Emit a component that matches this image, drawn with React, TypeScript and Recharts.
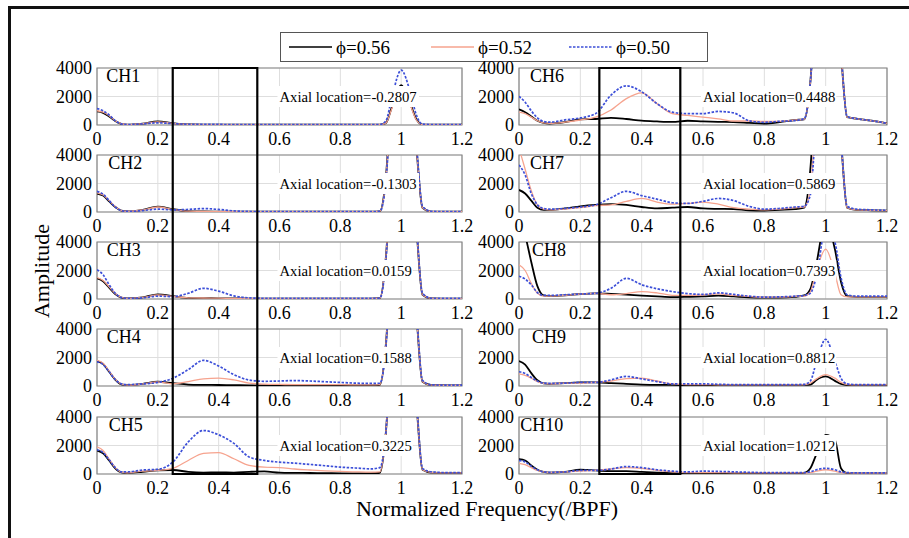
import { LineChart, Line, XAxis, YAxis, CartesianGrid, ReferenceArea, ReferenceDot } from 'recharts'

const FONT = "'Liberation Serif', 'Times New Roman', serif"

// shared frequency grid (normalized by BPF)
const FREQ = [
  0, 0.02, 0.04, 0.06, 0.08, 0.1, 0.15, 0.2,
  0.25, 0.3, 0.35, 0.4, 0.45, 0.5, 0.55, 0.6,
  0.65, 0.7, 0.75, 0.8, 0.85, 0.9, 0.93, 0.95,
  0.97, 1.0, 1.03, 1.05, 1.07, 1.1, 1.15, 1.2,
]
const X_TICKS = [0, 0.2, 0.4, 0.6, 0.8, 1, 1.2]
const Y_TICKS = [0, 2000, 4000]

const CH_NAMES = ['CH1', 'CH2', 'CH3', 'CH4', 'CH5', 'CH6', 'CH7', 'CH8', 'CH9', 'CH10']
const AXIAL = ['-0.2807', '-0.1303', '0.0159', '0.1588', '0.3225', '0.4488', '0.5869', '0.7393', '0.8812', '1.0212']
const PHI = ['\u03d5=0.56', '\u03d5=0.52', '\u03d5=0.50']
const CH_LABEL_X = [0.03, 0.037, 0.032, 0.032, 0.039, 0.036, 0.036, 0.042, 0.042, 0.004]

// phi = 0.56 (black), 0.52 (orange), 0.50 (blue dotted)
const CH1_056 = [950, 850, 600, 280, 80, 30, 100, 250, 120, 40, 30, 30, 30, 20, 20, 20, 20, 20, 20, 20, 20, 20, 20, 150, 1300, 2800, 1500, 400, 30, 20, 20, 20]
const CH1_052 = [1000, 900, 650, 300, 90, 30, 100, 220, 110, 40, 30, 30, 30, 20, 20, 20, 20, 20, 20, 20, 20, 20, 20, 150, 1200, 2700, 1400, 350, 30, 20, 20, 20]
const CH1_050 = [1150, 1000, 700, 300, 80, 30, 80, 150, 100, 50, 50, 40, 30, 30, 30, 30, 30, 30, 30, 30, 30, 30, 30, 300, 2000, 3850, 2300, 700, 60, 30, 30, 30]

const CH2_056 = [1300, 1150, 750, 350, 100, 40, 150, 380, 200, 60, 40, 30, 30, 20, 20, 20, 20, 20, 20, 20, 20, 20, 50, 2500, 9000, 15000, 9000, 4500, 300, 30, 20, 20]
const CH2_052 = [1350, 1200, 800, 380, 100, 40, 140, 350, 180, 60, 40, 30, 30, 20, 20, 20, 20, 20, 20, 20, 20, 20, 50, 2400, 9000, 15000, 9000, 4500, 300, 30, 20, 20]
const CH2_050 = [1450, 1250, 800, 350, 100, 40, 100, 200, 150, 180, 240, 180, 80, 40, 30, 30, 30, 30, 30, 30, 30, 30, 50, 2200, 9000, 15000, 9000, 4800, 400, 40, 30, 30]

const CH3_056 = [1450, 1250, 800, 350, 100, 40, 120, 330, 200, 80, 60, 50, 40, 30, 30, 30, 30, 30, 30, 30, 30, 30, 60, 3000, 10000, 16000, 10000, 5000, 300, 40, 30, 30]
const CH3_052 = [1500, 1300, 850, 380, 110, 40, 110, 280, 180, 80, 70, 60, 40, 30, 30, 30, 30, 30, 30, 30, 30, 30, 60, 3000, 10000, 16000, 10000, 5000, 300, 40, 30, 30]
const CH3_050 = [2050, 1700, 1000, 400, 100, 40, 80, 200, 170, 400, 750, 550, 220, 80, 50, 40, 40, 40, 40, 40, 40, 40, 60, 2800, 10000, 16000, 10000, 5200, 400, 50, 40, 40]

const CH4_056 = [1750, 1550, 1000, 450, 120, 60, 150, 300, 200, 100, 80, 70, 60, 50, 50, 50, 50, 50, 50, 50, 50, 50, 80, 3000, 10000, 16000, 10000, 5000, 300, 60, 50, 50]
const CH4_052 = [1800, 1600, 1050, 480, 130, 60, 150, 280, 150, 310, 500, 550, 430, 200, 130, 110, 100, 100, 100, 90, 80, 80, 100, 3000, 10000, 16000, 10000, 5000, 300, 60, 50, 50]
const CH4_050 = [1700, 1500, 1000, 450, 150, 100, 150, 250, 550, 1150, 1800, 1400, 800, 420, 330, 350, 380, 350, 300, 250, 200, 180, 200, 2800, 10000, 16000, 10000, 5200, 400, 80, 60, 60]

const CH5_056 = [1650, 1450, 950, 400, 120, 80, 150, 250, 280, 150, 100, 120, 100, 150, 180, 100, 80, 70, 60, 50, 50, 50, 80, 3000, 10000, 16000, 10000, 5000, 300, 100, 80, 80]
const CH5_052 = [1900, 1650, 1050, 450, 130, 80, 200, 250, 400, 950, 1450, 1500, 1070, 600, 480, 450, 350, 280, 220, 180, 150, 130, 150, 3000, 10000, 16000, 10000, 5000, 300, 100, 80, 80]
const CH5_050 = [1700, 1500, 1000, 450, 150, 150, 280, 330, 850, 2250, 3050, 2750, 2150, 1200, 950, 830, 760, 670, 580, 480, 420, 360, 450, 3000, 10000, 16000, 10000, 5200, 400, 150, 100, 100]

const CH6_056 = [1100, 900, 600, 300, 150, 100, 200, 400, 420, 500, 420, 300, 250, 220, 300, 250, 220, 200, 150, 100, 200, 350, 400, 3000, 10000, 16000, 10000, 5000, 550, 450, 300, 120]
const CH6_052 = [900, 800, 550, 300, 150, 120, 200, 350, 550, 1050, 1850, 2250, 1500, 800, 670, 550, 430, 280, 280, 250, 250, 350, 400, 3000, 10000, 16000, 10000, 5000, 550, 450, 300, 120]
const CH6_050 = [2000, 1600, 1000, 500, 250, 200, 360, 500, 800, 2100, 2750, 2330, 1500, 900, 800, 800, 950, 850, 300, 190, 260, 310, 450, 3000, 10000, 16000, 10000, 5000, 600, 450, 300, 120]

const CH7_056 = [1550, 1300, 800, 300, 150, 150, 250, 400, 500, 550, 500, 350, 250, 300, 350, 250, 220, 200, 120, 100, 150, 200, 300, 3000, 10000, 16000, 10000, 5000, 300, 150, 120, 100]
const CH7_052 = [4500, 3000, 1500, 500, 200, 150, 200, 300, 450, 500, 750, 950, 700, 550, 600, 700, 550, 300, 200, 150, 200, 300, 350, 1500, 8000, 16000, 10000, 5000, 300, 150, 120, 100]
const CH7_050 = [3300, 2600, 1300, 500, 250, 200, 250, 350, 500, 1000, 1450, 1150, 900, 650, 600, 750, 950, 800, 400, 200, 250, 350, 400, 1200, 7000, 16000, 10000, 5000, 400, 200, 150, 120]

const CH8_056 = [6000, 4500, 2600, 900, 250, 200, 250, 350, 400, 360, 300, 240, 180, 130, 150, 180, 240, 180, 120, 100, 100, 150, 250, 700, 2500, 5500, 3500, 1200, 200, 150, 150, 150]
const CH8_052 = [2400, 2000, 1100, 400, 200, 200, 250, 350, 400, 300, 380, 520, 430, 260, 250, 280, 360, 250, 180, 120, 130, 180, 200, 500, 2000, 3500, 1800, 300, 150, 150, 150, 150]
const CH8_050 = [1600, 1400, 1000, 450, 250, 250, 300, 350, 400, 750, 1450, 1000, 720, 520, 380, 320, 430, 320, 200, 130, 150, 200, 250, 400, 1600, 5000, 4000, 1500, 300, 200, 200, 200]

const CH9_056 = [1750, 1500, 900, 400, 180, 150, 200, 250, 250, 200, 150, 100, 80, 80, 60, 60, 60, 60, 60, 60, 60, 60, 80, 100, 430, 670, 360, 150, 70, 60, 60, 60]
const CH9_052 = [850, 750, 550, 300, 180, 150, 200, 200, 250, 350, 520, 550, 350, 150, 100, 100, 80, 80, 80, 80, 80, 80, 100, 200, 500, 800, 550, 250, 100, 80, 80, 80]
const CH9_050 = [1000, 880, 600, 350, 200, 180, 200, 250, 250, 430, 670, 500, 310, 150, 150, 150, 120, 100, 100, 100, 100, 100, 120, 350, 1700, 3280, 1750, 550, 150, 100, 100, 100]

const CH10_056 = [1050, 950, 600, 300, 150, 100, 150, 300, 250, 200, 200, 150, 100, 60, 50, 50, 50, 50, 50, 50, 50, 50, 80, 400, 1400, 2750, 2400, 400, 60, 50, 50, 50]
const CH10_052 = [750, 650, 450, 250, 150, 100, 150, 200, 250, 350, 450, 400, 250, 150, 100, 100, 100, 80, 80, 80, 80, 80, 80, 100, 200, 300, 200, 100, 80, 60, 60, 60]
const CH10_050 = [950, 850, 550, 300, 150, 120, 150, 250, 250, 350, 520, 450, 300, 200, 150, 200, 180, 150, 120, 100, 100, 100, 100, 150, 300, 400, 300, 150, 100, 80, 80, 80]

const SERIES = [
  [CH1_056, CH1_052, CH1_050],
  [CH2_056, CH2_052, CH2_050],
  [CH3_056, CH3_052, CH3_050],
  [CH4_056, CH4_052, CH4_050],
  [CH5_056, CH5_052, CH5_050],
  [CH6_056, CH6_052, CH6_050],
  [CH7_056, CH7_052, CH7_050],
  [CH8_056, CH8_052, CH8_050],
  [CH9_056, CH9_052, CH9_050],
  [CH10_056, CH10_052, CH10_050],
]

const COLORS = ['#000000', '#f6a38e', '#3c4fd8']

// layout of the subplot grid (page pixels)
const COL_LEFT = [97, 519]
const COL_W = [365, 368]
const ROW_TOP = [68, 155, 242, 329, 417]
const PLOT_H = 57
const YW = 60
const MT = 12
const MR = 22
const XH = 30
const BOX = [[0.249, 0.527], [0.262, 0.526]]

const tickStyle = { fontSize: 18, fill: '#000', fontFamily: FONT }
const fmtX = (v: number) => String(Number(v.toFixed(1)))

function axialShape(text: string) {
  // eslint-disable-next-line @typescript-eslint/no-explicit-any
  return (p: any) => {
    const w = text.length * 6.25 + 4
    return (
      <g>
        <rect x={p.cx - 2} y={p.cy - 10.5} width={w} height={21} fill="#fff" />
        <text x={p.cx} y={p.cy} dominantBaseline="central" fontSize={14.7} fontFamily={FONT} fill="#000">
          {text}
        </text>
      </g>
    )
  }
}

function nameShape(text: string) {
  // eslint-disable-next-line @typescript-eslint/no-explicit-any
  return (p: any) => (
    <text x={p.cx} y={p.cy} fontSize={18} fontFamily={FONT} fill="#000">
      {text}
    </text>
  )
}

function Panel({ i }: { i: number }) {
  const col = i < 5 ? 0 : 1
  const row = i % 5
  const plotW = COL_W[col]
  const [k, r, b] = SERIES[i]
  const data = FREQ.map((f, j) => ({ f, k: k[j], r: r[j], b: b[j] }))

  return (
    <div style={{ position: 'absolute', left: COL_LEFT[col] - YW, top: ROW_TOP[row] - MT }}>
      <LineChart
        width={YW + plotW + MR}
        height={MT + PLOT_H + XH}
        data={data}
        margin={{ top: MT, right: MR, left: 0, bottom: 0 }}
      >
        <CartesianGrid stroke="#dedede" />
        <XAxis
          dataKey="f"
          type="number"
          domain={[0, 1.2]}
          ticks={X_TICKS}
          interval={0}
          allowDataOverflow
          height={XH}
          tickLine={false}
          axisLine={false}
          tickSize={0}
          tickMargin={7}
          tick={tickStyle}
          tickFormatter={fmtX}
        />
        <YAxis
          type="number"
          domain={[0, 4000]}
          ticks={Y_TICKS}
          interval={0}
          allowDataOverflow
          width={YW}
          tickLine={false}
          axisLine={false}
          tickSize={0}
          tickMargin={5}
          tick={tickStyle}
        />
        <Line type="monotone" dataKey="k" stroke={COLORS[0]} strokeWidth={1.8} dot={false} isAnimationActive={false} />
        <Line type="monotone" dataKey="r" stroke={COLORS[1]} strokeWidth={1.3} dot={false} isAnimationActive={false} />
        <Line type="monotone" dataKey="b" stroke={COLORS[2]} strokeWidth={1.7} strokeDasharray="2.5 1.5" dot={false} isAnimationActive={false} />
        <ReferenceArea x1={0} x2={1.2} y1={0} y2={4000} fill="none" fillOpacity={0} stroke="#858585" strokeWidth={1.2} />
        <ReferenceDot x={CH_LABEL_X[i]} y={3050} r={0} shape={nameShape(CH_NAMES[i])} />
        <ReferenceDot x={0.6} y={2000} r={0} shape={axialShape('Axial location=' + AXIAL[i])} />
      </LineChart>
    </div>
  )
}

// the black window drawn across the five panels of one column
function Box({ col }: { col: number }) {
  const top = ROW_TOP[0]
  const bottom = ROW_TOP[4] + PLOT_H
  const data = FREQ.map((f) => ({ f, v: 0.5 }))
  return (
    <div style={{ position: 'absolute', left: COL_LEFT[col] - 2, top: top - 2, pointerEvents: 'none' }}>
      <LineChart width={COL_W[col] + 4} height={bottom - top + 4} data={data} margin={{ top: 2, right: 2, left: 2, bottom: 2 }}>
        <XAxis dataKey="f" type="number" domain={[0, 1.2]} hide />
        <YAxis type="number" domain={[0, 1]} hide />
        <Line dataKey="v" stroke="none" dot={false} isAnimationActive={false} />
        <ReferenceArea
          x1={BOX[col][0]}
          x2={BOX[col][1]}
          y1={0}
          y2={1}
          fill="none"
          fillOpacity={0}
          stroke="#000"
          strokeWidth={2.2}
          ifOverflow="visible"
        />
      </LineChart>
    </div>
  )
}

function LegendBox() {
  const starts = [8, 150, 288]
  return (
    <div
      style={{
        position: 'absolute', left: 280, top: 32, width: 426, height: 28,
        border: '1px solid #555', background: '#fff', fontFamily: FONT,
      }}
    >
      {PHI.map((label, i) => (
        <div
          key={label}
          style={{ position: 'absolute', left: starts[i], top: 0, height: 28, display: 'flex', alignItems: 'center' }}
        >
          <svg width={43} height={10}>
            <line
              x1={0} y1={5} x2={43} y2={5}
              stroke={COLORS[i]}
              strokeWidth={i === 1 ? 1.3 : 1.7}
              strokeDasharray={i === 2 ? '2.5 1.5' : undefined}
            />
          </svg>
          <span style={{ marginLeft: 4, fontSize: 19, color: '#000', lineHeight: 1 }}>{label}</span>
        </div>
      ))}
    </div>
  )
}

export default function App() {
  return (
    <div
      style={{
        position: 'absolute', left: 0, top: 0, width: 909, height: 538,
        overflow: 'hidden', background: '#fff', fontFamily: FONT,
      }}
    >
      <div
        style={{
          position: 'absolute', left: 8, top: 6, width: 1000, height: 1000,
          borderLeft: '3px solid #111', borderTop: '3px solid #111',
        }}
      />
      <LegendBox />
      {CH_NAMES.map((_, i) => (
        <Panel key={i} i={i} />
      ))}
      <Box col={0} />
      <Box col={1} />
      <div
        style={{
          position: 'absolute', left: 42, top: 271, transform: 'translate(-50%, -50%) rotate(-90deg)',
          fontSize: 22, lineHeight: 1, whiteSpace: 'nowrap', color: '#000',
        }}
      >
        Amplitude
      </div>
      <div
        style={{
          position: 'absolute', left: 487, top: 509, transform: 'translate(-50%, -50%)',
          fontSize: 22, lineHeight: 1, whiteSpace: 'nowrap', color: '#000',
        }}
      >
        Normalized Frequency(/BPF)
      </div>
    </div>
  )
}
